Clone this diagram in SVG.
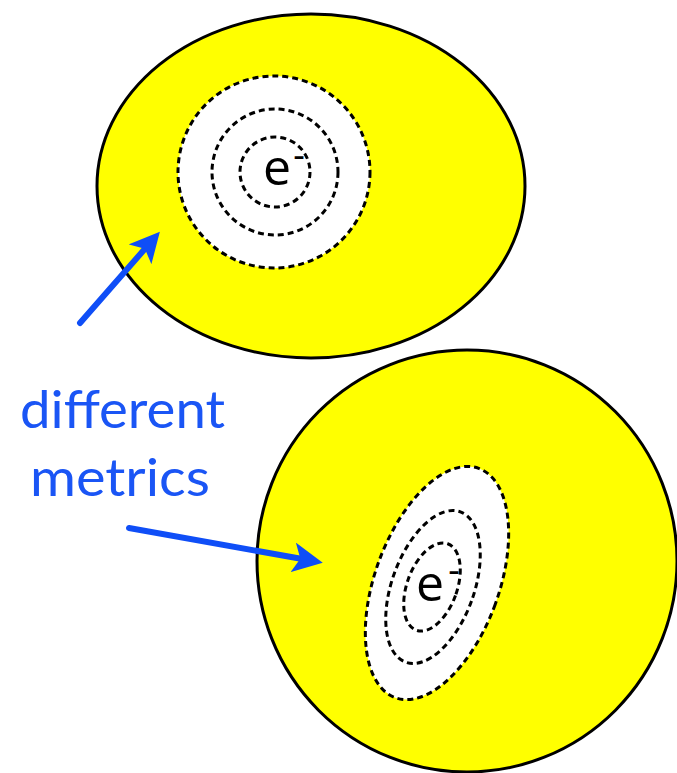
<svg xmlns="http://www.w3.org/2000/svg" width="677" height="773" viewBox="0 0 677 773">
<style>
.blob{fill:#ffff00;stroke:#000;stroke-width:3}
.hole{fill:#fff;stroke:#000;stroke-width:3;stroke-dasharray:6 4}
.ring{fill:none;stroke:#000;stroke-width:3;stroke-dasharray:6 4}
.e{font-family:"Open Sans","DejaVu Sans",sans-serif;fill:#000}
.lbl{font-family:"Lato","Open Sans",sans-serif;fill:#1a55f5;font-size:52px}
.arr{stroke:#0f4ef7;stroke-width:6;fill:none;stroke-linecap:round}
</style>
<defs>
<marker id="ah" markerWidth="5" markerHeight="5" refX="2.5" refY="2.5" orient="auto" markerUnits="strokeWidth">
<path d="M0,0 L5,2.5 L0,5 L1.2,2.5 Z" fill="#0f4ef7"/>
</marker>
</defs>
<g id="top-region">
<ellipse class="blob" cx="311" cy="186" rx="214" ry="172"/>
<circle class="hole" cx="274" cy="172" r="96"/>
<circle class="ring" cx="275" cy="172" r="63"/>
<circle class="ring" cx="275" cy="172" r="35"/>
<text class="e" x="277" y="185" font-size="50" text-anchor="middle">e</text>
<text class="e" x="299" y="168" font-size="36" text-anchor="middle">-</text>
</g>
<g id="bottom-region">
<ellipse class="blob" cx="467" cy="561" rx="210" ry="211"/>
<ellipse class="hole" cx="437" cy="583" rx="62" ry="122" transform="rotate(20 437 583)"/>
<ellipse class="ring" cx="433" cy="587" rx="41" ry="80" transform="rotate(20 433 587)"/>
<ellipse class="ring" cx="432" cy="587" rx="25" ry="46" transform="rotate(20 432 587)"/>
<text class="e" x="430" y="601" font-size="50" text-anchor="middle">e</text>
<text class="e" x="454" y="583" font-size="36" text-anchor="middle">-</text>
</g>
<g id="label">
<text class="lbl" x="20" y="428" textLength="205" lengthAdjust="spacingAndGlyphs">different</text>
<text class="lbl" x="30" y="496" textLength="180" lengthAdjust="spacingAndGlyphs">metrics</text>
</g>
<g id="connectors">
<line class="arr" x1="80" y1="323" x2="150" y2="243" marker-end="url(#ah)"/>
<line class="arr" x1="129" y1="528" x2="308" y2="560" marker-end="url(#ah)"/>
</g>
</svg>
